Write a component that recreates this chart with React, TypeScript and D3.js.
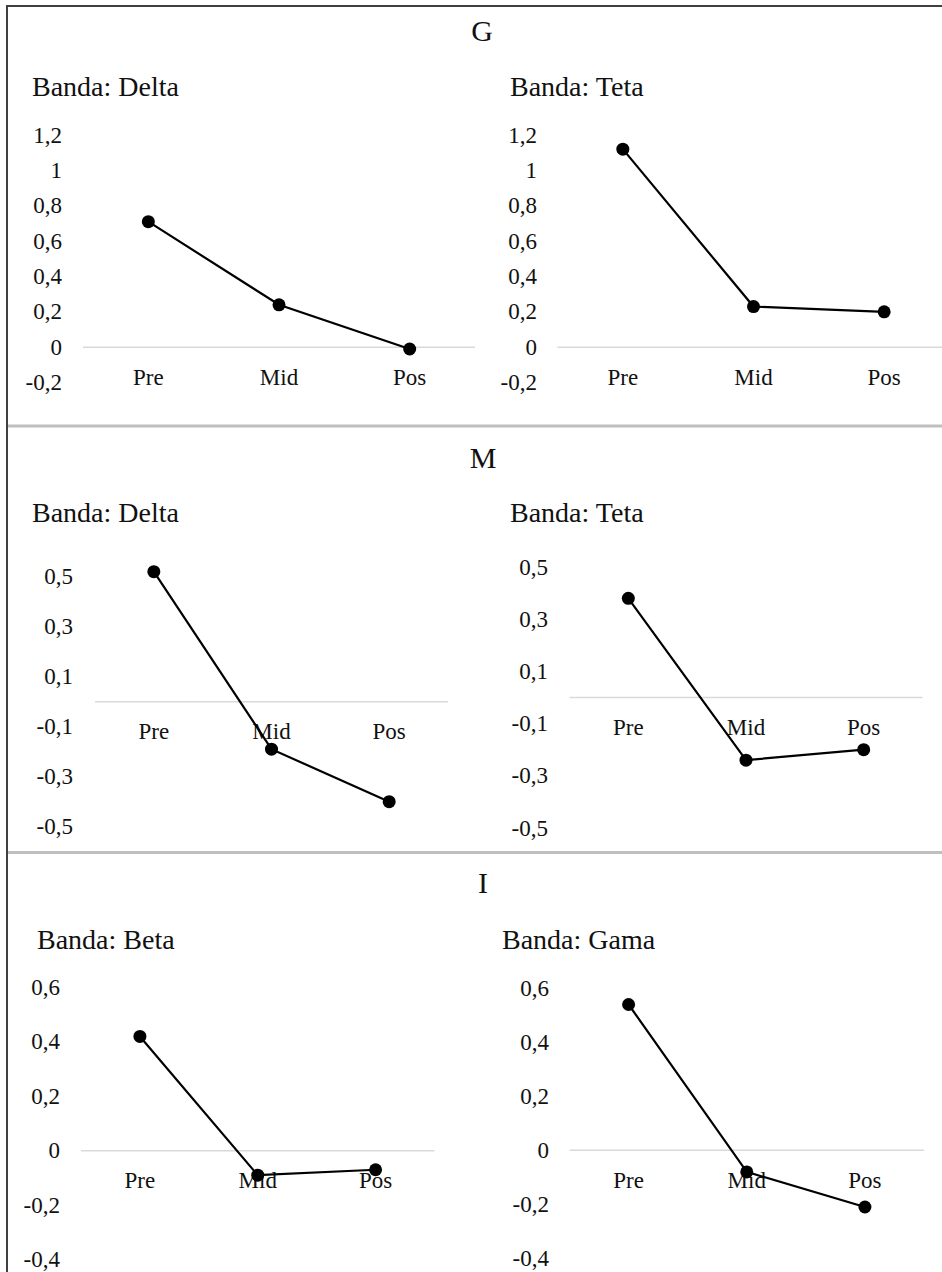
import React from "react";
import * as d3 from "d3";

const categories = ["Pre", "Mid", "Pos"];

const sectionTitles = ["G", "M", "I"];

const gDelta = [0.71, 0.24, -0.01];
const gTeta = [1.12, 0.23, 0.2];
const mDelta = [0.52, -0.19, -0.4];
const mTeta = [0.38, -0.24, -0.2];
const iBeta = [0.42, -0.09, -0.07];
const iGama = [0.54, -0.08, -0.21];

const ticksG = [-0.2, 0, 0.2, 0.4, 0.6, 0.8, 1, 1.2];
const ticksM = [-0.5, -0.3, -0.1, 0.1, 0.3, 0.5];
const ticksI = [-0.4, -0.2, 0, 0.2, 0.4, 0.6];

const bandNames = ["Delta", "Teta", "Delta", "Teta", "Beta", "Gama"];

const FONT = "'Liberation Serif'";

type Panel = {
  band: string;
  values: number[];
  ticks: number[];
  x0: number;
  x1: number;
  yTopVal: number;
  yTop: number;
  yBotVal: number;
  yBot: number;
  tickRight: number;
  subX: number;
  subY: number;
};

const panels: Panel[] = [
  { band: bandNames[0], values: gDelta, ticks: ticksG, x0: 83, x1: 475, yTopVal: 1.2, yTop: 135, yBotVal: -0.2, yBot: 382.6, tickRight: 62, subX: 32, subY: 87 },
  { band: bandNames[1], values: gTeta, ticks: ticksG, x0: 557.5, x1: 949.5, yTopVal: 1.2, yTop: 135, yBotVal: -0.2, yBot: 382.6, tickRight: 537, subX: 510, subY: 87 },
  { band: bandNames[2], values: mDelta, ticks: ticksM, x0: 95, x1: 448, yTopVal: 0.5, yTop: 576.7, yBotVal: -0.5, yBot: 826.7, tickRight: 73, subX: 32, subY: 513 },
  { band: bandNames[3], values: mTeta, ticks: ticksM, x0: 569.5, x1: 922.5, yTopVal: 0.5, yTop: 567, yBotVal: -0.5, yBot: 828, tickRight: 548, subX: 510, subY: 513 },
  { band: bandNames[4], values: iBeta, ticks: ticksI, x0: 81, x1: 434.5, yTopVal: 0.6, yTop: 987.5, yBotVal: -0.4, yBot: 1259.5, tickRight: 60, subX: 37, subY: 940 },
  { band: bandNames[5], values: iGama, ticks: ticksI, x0: 569.5, x1: 924, yTopVal: 0.6, yTop: 988.3, yBotVal: -0.4, yBot: 1258.3, tickRight: 549, subX: 502, subY: 939.5 },
];

const sectionTitlePos = [
  { x: 482, y: 31 },
  { x: 483, y: 458 },
  { x: 483, y: 883 },
];

const fmt = (v: number) => {
  const r = Math.round(v * 10) / 10;
  return String(r === 0 ? 0 : r).replace(".", ",");
};

const TICK_FS = 23;
const SUB_FS = 28;
const TITLE_FS = 30;
const TEXT_FILL = "#111";

function PanelChart({ p }: { p: Panel }) {
  const x = d3.scaleBand<string>().domain(categories).range([p.x0, p.x1]);
  const y = d3.scaleLinear().domain([p.yBotVal, p.yTopVal]).range([p.yBot, p.yTop]);
  const pts: [number, number][] = p.values.map((v, i) => [x(categories[i])! + x.bandwidth() / 2, y(v)]);
  const line = d3.line<[number, number]>()(pts) || "";
  const zeroY = y(0);
  return (
    <g>
      <text x={p.subX} y={p.subY + SUB_FS * 0.33} fontSize={SUB_FS} style={{ fontFamily: FONT }} fill={TEXT_FILL}>
        {`Banda: ${p.band}`}
      </text>
      {p.ticks.map((t) => (
        <text key={t} x={p.tickRight} y={y(t) + TICK_FS * 0.33} fontSize={TICK_FS} style={{ fontFamily: FONT }} textAnchor="end" fill={TEXT_FILL}>
          {fmt(t)}
        </text>
      ))}
      <line x1={p.x0} x2={p.x1} y1={zeroY} y2={zeroY} stroke="#d9d9d9" strokeWidth={1.5} />
      {categories.map((c) => (
        <text key={c} x={x(c)! + x.bandwidth() / 2} y={zeroY + 30 + TICK_FS * 0.33} fontSize={TICK_FS} style={{ fontFamily: FONT }} textAnchor="middle" fill={TEXT_FILL}>
          {c}
        </text>
      ))}
      <path d={line} fill="none" stroke="#000" strokeWidth={2.2} />
      {pts.map((pt, i) => (
        <circle key={i} cx={pt[0]} cy={pt[1]} r={6.5} fill="#000" />
      ))}
    </g>
  );
}

export default function App() {
  return (
    <svg width={942} height={1272} style={{ position: "absolute", left: 0, top: 0, background: "#fff" }}>
      <rect x={0} y={0} width={942} height={1272} fill="#fff" />
      {panels.map((p, i) => (
        <PanelChart key={i} p={p} />
      ))}
      {sectionTitles.map((t, i) => (
        <text key={t} x={sectionTitlePos[i].x} y={sectionTitlePos[i].y + TITLE_FS * 0.33} fontSize={TITLE_FS} style={{ fontFamily: FONT }} textAnchor="middle" fill={TEXT_FILL}>
          {t}
        </text>
      ))}
      <line x1={8} x2={942} y1={426} y2={426} stroke="#bfbfbf" strokeWidth={3} />
      <line x1={8} x2={942} y1={852.5} y2={852.5} stroke="#bfbfbf" strokeWidth={3} />
      <line x1={7} x2={942} y1={6} y2={6} stroke="#000" strokeWidth={1.5} />
      <line x1={7} x2={7} y1={5} y2={1272} stroke="#404040" strokeWidth={2} />
    </svg>
  );
}
